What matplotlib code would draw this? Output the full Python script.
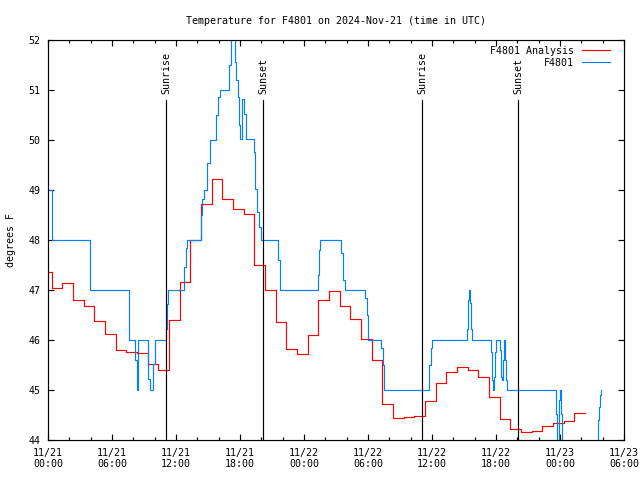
import matplotlib
matplotlib.use("Agg")
import matplotlib.pyplot as plt
from matplotlib.ticker import MultipleLocator, FixedLocator
from matplotlib.lines import Line2D

# ---- data (hours since 11/21 00:00 UTC) ----
analysis_hours = [0.0, 0.35, 1.35, 2.35, 3.35, 4.35, 5.35, 6.35, 7.35, 8.35, 9.35,
                  10.35, 11.35, 12.35, 13.35, 14.35, 15.35, 16.35, 17.35, 18.35, 19.35,
                  20.35, 21.35, 22.35, 23.35, 24.35, 25.35, 26.35, 27.35, 28.35, 29.35,
                  30.35, 31.35, 32.35, 33.35, 34.35, 35.35, 36.35, 37.35, 38.35, 39.35,
                  40.35, 41.35, 42.35, 43.35, 44.35, 45.35, 46.35, 47.35, 48.35, 49.35, 50.31]
analysis_temp = [47.37, 47.05, 47.14, 46.80, 46.68, 46.38, 46.13, 45.80, 45.76, 45.75, 45.53,
                 45.41, 46.41, 47.17, 48.00, 48.73, 49.23, 48.83, 48.63, 48.53, 47.50,
                 47.01, 46.36, 45.83, 45.73, 46.11, 46.80, 46.98, 46.69, 46.43, 46.02,
                 45.60, 44.72, 44.44, 44.46, 44.48, 44.79, 45.15, 45.37, 45.46, 45.41,
                 45.26, 44.86, 44.43, 44.22, 44.17, 44.19, 44.29, 44.35, 44.38, 44.55, 44.55]

obs_hours = [0.0, 0.35, 3.98, 7.64, 8.2, 8.3, 8.48, 9.33, 9.42, 9.52, 9.8, 9.88, 10.0,
             11.09, 11.19, 11.28, 12.78, 12.93, 13.03, 14.3, 14.45, 14.6, 14.95, 15.2,
             15.75, 15.95, 16.1, 17.0, 17.15, 17.5, 17.65, 17.8, 17.9, 18.0, 18.2, 18.35, 18.55,
             19.3, 19.4, 19.6, 19.8, 19.97, 21.6, 21.78, 25.35, 25.45, 25.53, 27.5, 27.7, 27.8,
             29.75, 29.9, 30.03, 31.25, 31.4, 31.53, 35.75, 35.9, 36.03,
             39.31, 39.4, 39.5, 39.56, 39.66, 39.78,
             41.53, 41.65, 41.75, 41.84, 41.93, 42.03, 42.38, 42.44, 42.53, 42.62, 42.75,
             42.84, 42.94, 43.06, 47.47, 47.6, 47.75, 47.88, 47.97, 48.09, 48.22,
             51.5, 51.53, 51.66, 51.78, 51.88]
obs_temp = [49.0, 48.0, 47.0, 46.0, 45.6, 45.0, 46.0, 45.53, 45.23, 45.0, 45.23, 45.53, 46.0,
            46.23, 46.73, 47.0, 47.47, 47.85, 48.0, 48.5, 48.83, 49.0, 49.55, 50.0,
            50.5, 50.87, 51.0, 51.5, 52.2, 51.57, 51.2, 50.87, 50.3, 50.03, 50.83, 50.53, 50.03,
            49.77, 49.03, 48.57, 48.27, 48.0, 47.6, 47.0, 47.3, 47.8, 48.0, 47.75, 47.2, 47.0,
            46.85, 46.5, 46.0, 45.85, 45.5, 45.0, 45.5, 45.85, 46.0,
            46.23, 46.8, 47.0, 46.75, 46.23, 46.0,
            45.77, 45.2, 45.0, 45.27, 45.77, 46.0, 45.8, 45.27, 45.2, 45.6, 46.0,
            45.6, 45.2, 45.0, 45.0, 44.53, 43.5, 44.8, 45.0, 44.53, 43.5,
            43.5, 44.4, 44.67, 44.9, 45.0]

sun_hours = [11.09, 20.19, 35.09, 44.09]
sun_labels = ["Sunrise", "Sunset", "Sunrise", "Sunset"]

tick_hours = [0, 6, 12, 18, 24, 30, 36, 42, 48, 54]
tick_labels = ["11/21\n00:00", "11/21\n06:00", "11/21\n12:00", "11/21\n18:00",
               "11/22\n00:00", "11/22\n06:00", "11/22\n12:00", "11/22\n18:00",
               "11/23\n00:00", "11/23\n06:00"]

# ---- plot ----
plt.rcParams['font.family'] = ['DejaVu Sans Mono']
plt.rcParams['font.size'] = 7.2

fig = plt.figure(figsize=(6.4, 4.8), dpi=100)
ax = fig.add_axes([48/640, 40/480, 576/640, 400/480])

red = '#ff0000'
blue = '#0080ff'
lw = 0.85

ax.plot(analysis_hours, analysis_temp, drawstyle='steps-post', color=red, lw=lw)
ax.plot(obs_hours, obs_temp, drawstyle='steps-post', color=blue, lw=lw)

for h, lab in zip(sun_hours, sun_labels):
    ax.plot([h, h], [44, 50.8], color='black', lw=lw)
    ax.text(h, 50.93, lab, rotation=90, ha='center', va='bottom', fontsize=7.2)

ax.set_xlim(0, 54)
ax.set_ylim(44, 52)
ax.xaxis.set_major_locator(FixedLocator(tick_hours))
ax.set_xticklabels(tick_labels)
ax.xaxis.set_minor_locator(MultipleLocator(2))
ax.yaxis.set_major_locator(MultipleLocator(1))

ax.tick_params(which='both', direction='in', top=True, right=True, width=lw)
ax.tick_params(which='major', length=4.5)
ax.tick_params(which='minor', length=2.5)
ax.tick_params(axis='y', pad=5.5)
ax.tick_params(axis='x', pad=5.5)
for s in ax.spines.values():
    s.set_linewidth(lw)

ax.set_ylabel('degrees F')
ax.yaxis.set_label_coords(-0.0556, 0.5)
ax.set_title('Temperature for F4801 on 2024-Nov-21 (time in UTC)', fontsize=7.2, pad=11.5)

handles = [Line2D([], [], color=red, lw=lw), Line2D([], [], color=blue, lw=lw)]
ax.legend(handles, ['F4801 Analysis', 'F4801'], loc='upper right',
          bbox_to_anchor=(0.9757, 0.985), frameon=False, markerfirst=False,
          borderaxespad=0, borderpad=0, handlelength=2.8, handletextpad=0.8,
          labelspacing=0.2, fontsize=7.2)

fig.savefig('out.png', dpi=100)
